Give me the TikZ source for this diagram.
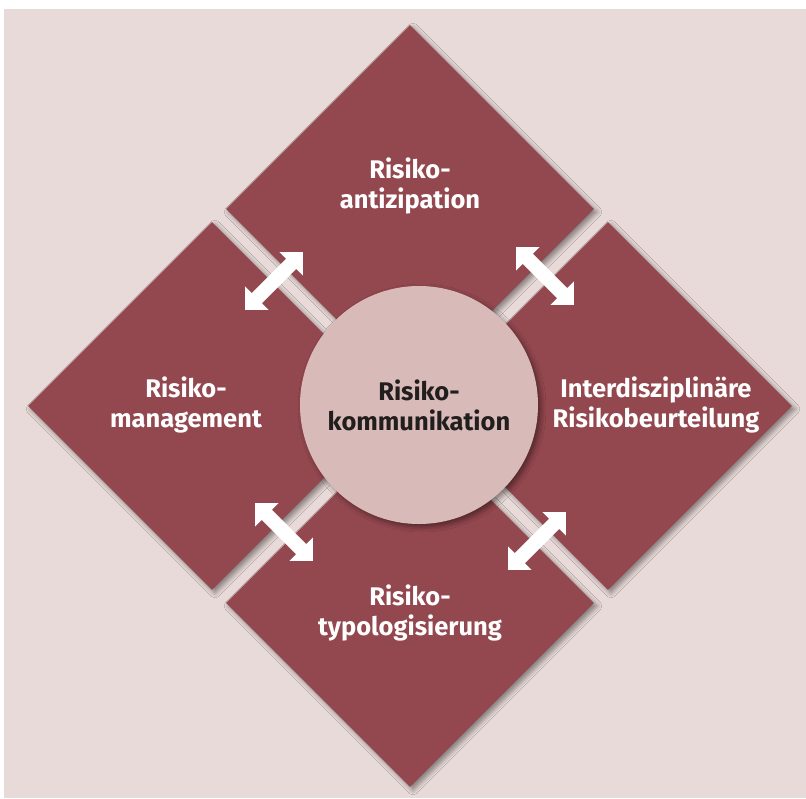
\documentclass[tikz,border=0pt]{standalone}
\usepackage{fontspec}
\setmainfont{Fira Sans}
\usetikzlibrary{shapes.geometric,shapes.arrows,shadows.blur}
\definecolor{wine}{RGB}{147,71,78}
\definecolor{paper}{RGB}{232,218,216}
\definecolor{rosecore}{RGB}{216,186,184}
\definecolor{inkdark}{RGB}{34,30,30}
\tikzset{
  field/.style={diamond, aspect=1, fill=wine, inner sep=0pt,
    minimum width=368pt, minimum height=368pt,
    blur shadow={shadow xshift=3pt, shadow yshift=-3pt,
      shadow blur radius=5pt, shadow opacity=45}},
  core/.style={circle, fill=rosecore, inner sep=0pt, minimum size=238pt,
    blur shadow={shadow xshift=3pt, shadow yshift=-3pt,
      shadow blur radius=5pt, shadow opacity=45}},
  swap/.style={double arrow, fill=white, inner xsep=0pt, inner ysep=7pt,
    minimum width=0pt, minimum height=82pt,
    double arrow head extend=9.5pt, double arrow tip angle=90},
  lbl/.style={align=center, font=\bfseries\fontsize{25.5}{30}\selectfont,
    text=white},
  corelbl/.style={lbl, text=inkdark}
}
\begin{document}
\begin{tikzpicture}[x=1pt,y=-1pt]
\useasboundingbox (0,0) rectangle (806,798);
\fill[white] (0,0) rectangle (806,798);
\fill[paper] (4,9) rectangle (806,798);

% Four fields
\node[field] (anti) at (410,209) {};
\node[field] (mgmt) at (212,406) {};
\node[field] (assess) at (608,406) {};
\node[field] (typo) at (410,603) {};

% Centre
\node[core] (comm) at (419,405) {};

% Exchange arrows
\node[swap, rotate=45] (swapTL) at (274,281) {};
\node[swap, rotate=-45] (swapTR) at (545,276) {};
\node[swap, rotate=-45] (swapBL) at (284,532) {};
\node[swap, rotate=45] (swapBR) at (537,541) {};

% Labels
\node[lbl] (antiText) at (410,186) {Risiko-\\antizipation};
\node[lbl] (mgmtText) at (186,405) {Risiko-\\management};
\node[lbl] (assessText) at (656,405) {Interdisziplinäre\\Risikobeurteilung};
\node[lbl] (typoText) at (410,613) {Risiko-\\typologisierung};
\node[corelbl] (commText) at (419,405) {Risiko-\\kommunikation};
\end{tikzpicture}
\end{document}
